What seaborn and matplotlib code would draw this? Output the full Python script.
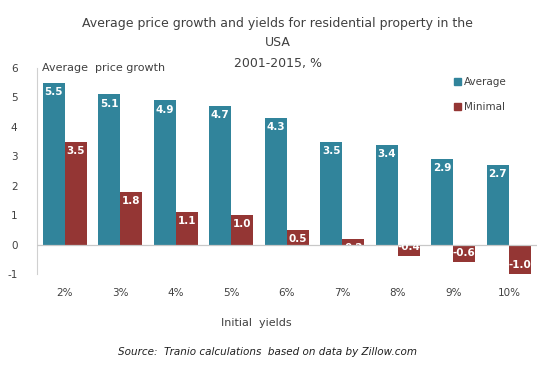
import pandas as pd
import matplotlib
matplotlib.use('Agg')
import matplotlib.pyplot as plt
import seaborn as sns

yields = ['2%', '3%', '4%', '5%', '6%', '7%', '8%', '9%', '10%']
average = [5.5, 5.1, 4.9, 4.7, 4.3, 3.5, 3.4, 2.9, 2.7]
minimal = [3.5, 1.8, 1.1, 1.0, 0.5, 0.2, -0.4, -0.6, -1.0]

df = pd.DataFrame({
    'yield': yields * 2,
    'value': average + minimal,
    'series': ['Average'] * len(yields) + ['Minimal'] * len(yields),
})

sns.set_theme(style="white")
plt.rcParams['font.family'] = ['DejaVu Sans']
plt.rcParams['axes.unicode_minus'] = False
text_col = '#404040'
palette = {'Average': '#31849B', 'Minimal': '#943634'}

fig = plt.figure(figsize=(5.59, 3.67), dpi=100)
ax = fig.add_axes([0.066, 0.2534, 0.894, 0.5613])
sns.barplot(data=df, x='yield', y='value', hue='series', palette=palette,
            width=0.79, saturation=1, linewidth=0, ax=ax, legend=False)

ax.set_ylim(-1, 6)
ax.set_xlim(-0.5, len(yields) - 0.5)
ax.set_yticks(range(-1, 7))
ax.tick_params(axis='both', length=0, colors=text_col, labelsize=7.5)
ax.tick_params(axis='y', pad=14)
ax.tick_params(axis='x', pad=10)
ax.set_xlabel('Initial  yields', color=text_col, fontsize=8)
ax.xaxis.set_label_coords(0.44, -0.215)
ax.set_ylabel('')
for s in ['top', 'right', 'bottom']:
    ax.spines[s].set_visible(False)
ax.spines['left'].set_color('#d0d0d0')
ax.spines['left'].set_linewidth(0.8)
ax.axhline(0, color='#c8c8c8', linewidth=0.9, zorder=3)

# value labels inside bars, clipped to the bar like the original
for container in ax.containers:
    for bar in container:
        v = bar.get_height()
        x = bar.get_x() + bar.get_width() / 2
        if v >= 0:
            t = ax.annotate(f'{v:.1f}', (x, v), xytext=(0, -3), textcoords='offset points',
                            ha='center', va='top', color='white', fontsize=7.5, fontweight='bold')
        else:
            t = ax.annotate(f'{v:.1f}', (x, v), xytext=(0, 3), textcoords='offset points',
                            ha='center', va='bottom', color='white', fontsize=7.5, fontweight='bold')
        t.set_clip_path(bar)

ax.text(0.01, 1.0, 'Average  price growth', transform=ax.transAxes, ha='left', va='center',
        color=text_col, fontsize=8)

handles = [plt.Rectangle((0, 0), 1, 1, color=palette[k]) for k in ['Average', 'Minimal']]
fig.legend(handles, ['Average', 'Minimal'], loc='upper left', bbox_to_anchor=(0.795, 0.815),
           frameon=False, fontsize=7.5, handlelength=0.7, handleheight=0.7, handletextpad=0.3,
           labelspacing=1.45, labelcolor=text_col)

title_lines = ['Average price growth and yields for residential property in the', 'USA', '2001-2015, %']
for i, line in enumerate(title_lines):
    fig.text(0.497, 1 - (23 + 20 * i) / 367, line, ha='center', va='center',
             color=text_col, fontsize=9)
fig.text(0.478, 0.04, 'Source:  Tranio calculations  based on data by Zillow.com',
         ha='center', va='center', color='#202020', fontsize=7.5, style='italic')

fig.savefig('out.png', dpi=100)
